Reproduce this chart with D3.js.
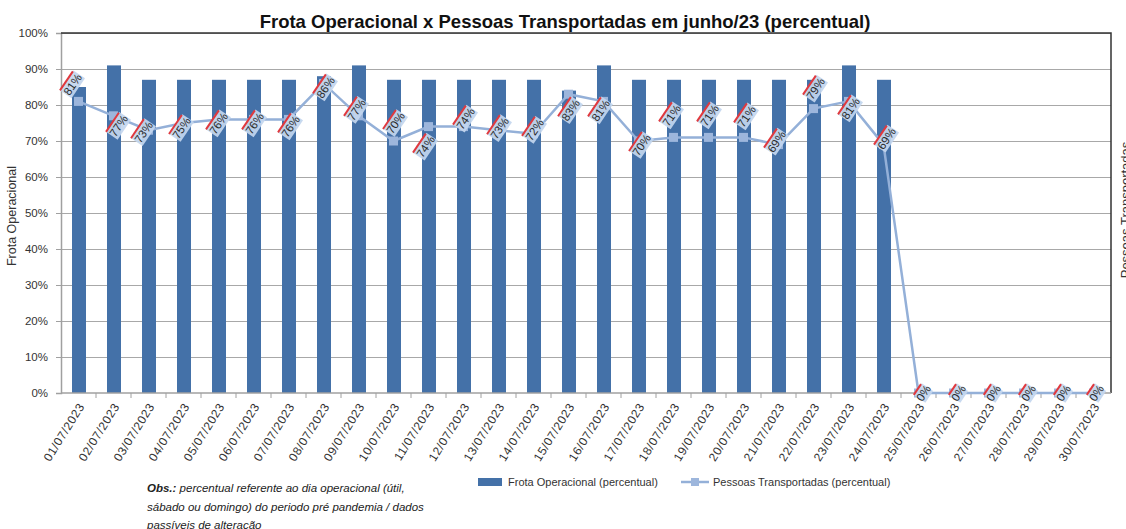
<!DOCTYPE html>
<html>
<head>
<meta charset="utf-8">
<script src="https://cdn.jsdelivr.net/npm/d3@7"></script>
<style>
  body { margin: 0; background: #fff; }
  svg { font-family: "Liberation Sans", Arial, sans-serif; }
</style>
</head>
<body>
<div id="chart"></div>
<script>
// dados (junho/23 - percentual)
const dias = ["01/07/2023","02/07/2023","03/07/2023","04/07/2023","05/07/2023","06/07/2023","07/07/2023","08/07/2023","09/07/2023","10/07/2023",
  "11/07/2023","12/07/2023","13/07/2023","14/07/2023","15/07/2023","16/07/2023","17/07/2023","18/07/2023","19/07/2023","20/07/2023",
  "21/07/2023","22/07/2023","23/07/2023","24/07/2023","25/07/2023","26/07/2023","27/07/2023","28/07/2023","29/07/2023","30/07/2023"]
const frota = [0.85,0.91,0.87,0.87,0.87,0.87,0.87,0.88,0.91,0.87,
  0.87,0.87,0.87,0.87,0.84,0.91,0.87,0.87,0.87,0.87,
  0.87,0.87,0.91,0.87,0,0,0,0,0,0]
const pessoas = [0.81,0.77,0.73,0.75,0.76,0.76,0.76,0.86,0.77,0.70,
  0.74,0.74,0.73,0.72,0.83,0.81,0.70,0.71,0.71,0.71,
  0.69,0.79,0.81,0.69,0,0,0,0,0,0]
const yTicks = [0,0.1,0.2,0.3,0.4,0.5,0.6,0.7,0.8,0.9,1]

const titulo = "Frota Operacional x Pessoas Transportadas em junho/23 (percentual)"
const obs = ["percentual referente ao dia operacional (útil,",
  "sábado ou domingo) do periodo pré pandemia / dados",
  "passíveis de alteração"]

const width = 1126
const height = 529
const margin = {top:33, bottom:136, left:61, right:15}

// deslocamento dos rótulos da linha (layout, em px)
const labelShift = [[-6,-17],[5,10],[-5,2],[-2,5],[0,4],[1,4],[2,7],[2,4],[-2,-6],[2,-18],
  [-3,20],[2,-8],[1,-2],[1,-4],[2,16],[-3,9],[3,4],[-2,-22],[1,-22],[3,-21],
  [-2,-3],[2,-20],[2,7],[3,-6],[5,0],[5,0],[5,0],[5,0],[5,0],[3,0]]

const svg = d3.select("div#chart").append("svg").attr("width",width).attr("height",height)

const x = d3.scaleBand().domain(dias).range([margin.left, width - margin.right])
const y = d3.scaleLinear().domain([0,1]).range([height - margin.bottom, margin.top])

const plotW = width - margin.right - margin.left

// grid
svg.append("g").attr("class","grid")
  .attr("transform", `translate(${margin.left},0)`)
  .call(d3.axisLeft(y).tickValues(yTicks.slice(1)).tickSize(-plotW).tickFormat(""))
  .call(g => g.select(".domain").remove())
  .call(g => g.selectAll("line").attr("stroke","#a8a8a8").attr("stroke-width",1.2))

// eixo Y
const yAxisGroup = svg.append("g")
  .attr("transform", `translate(${margin.left},0)`)
  .call(d3.axisLeft(y).tickValues(yTicks).tickFormat(d3.format(".0%")).tickSize(5).tickPadding(8))
yAxisGroup.select(".domain").attr("stroke","#a0a0a0").attr("stroke-width",1.5)
yAxisGroup.selectAll("line").attr("stroke","#a0a0a0")
yAxisGroup.selectAll("text").attr("font-size",11.5).attr("fill","#333")

// borda superior/direita
svg.append("path")
  .attr("d", `M${margin.left},${margin.top}H${width - margin.right}V${height - margin.bottom}`)
  .attr("fill","none").attr("stroke","#333").attr("stroke-width",1.5)

// barras
const bw = x.bandwidth() * 0.4
svg.append("g").selectAll("rect").data(frota).join("rect")
  .attr("x", (d,i) => x(dias[i]) + (x.bandwidth() - bw) / 2 + 0.5)
  .attr("y", d => y(d))
  .attr("width", bw)
  .attr("height", d => y(0) - y(d))
  .attr("fill", "#4471a8")

// eixo X
const xAxisGroup = svg.append("g").attr("transform", `translate(0,${y(0)})`)
xAxisGroup.append("line").attr("x1", margin.left).attr("x2", width - margin.right)
  .attr("stroke","#a0a0a0").attr("stroke-width",1.5)
xAxisGroup.selectAll("line.tk").data(dias.slice(1)).join("line").attr("class","tk")
  .attr("x1", d => x(d)).attr("x2", d => x(d)).attr("y1",0).attr("y2",5)
  .attr("stroke","#a0a0a0")
xAxisGroup.selectAll("text").data(dias).join("text")
  .attr("transform", d => `translate(${x(d) + x.bandwidth()/2 + 3},${11}) rotate(-58)`)
  .attr("text-anchor","end").attr("dy","0.35em")
  .attr("font-size",12).attr("letter-spacing",0.6).attr("fill","#333")
  .text(d => d)

// linha pessoas
const line = d3.line().x((d,i) => x(dias[i]) + x.bandwidth()/2).y(d => y(d))
svg.append("path").datum(pessoas)
  .attr("d", line).attr("fill","none").attr("stroke","#94b0d8").attr("stroke-width",2.5)
svg.append("g").selectAll("rect").data(pessoas).join("rect")
  .attr("x", (d,i) => x(dias[i]) + x.bandwidth()/2 - 4.5)
  .attr("y", d => y(d) - 4.5)
  .attr("width",9).attr("height",9)
  .attr("fill","#9db6dc")

// rótulos
const labels = svg.append("g").selectAll("g").data(pessoas).join("g")
  .attr("transform", (d,i) => `translate(${x(dias[i]) + x.bandwidth()/2 + labelShift[i][0]},${y(d) + labelShift[i][1]}) rotate(-56)`)
labels.append("rect")
  .attr("x", d => d > 0 ? -12 : -7).attr("y",-7)
  .attr("width", d => d > 0 ? 24 : 14).attr("height",14)
  .attr("fill","#c3d6ee").attr("opacity",0.92)
labels.append("line")
  .attr("x1", d => d > 0 ? -12 : -7).attr("x2", d => d > 0 ? 11 : 6)
  .attr("y1",-7).attr("y2",-7)
  .attr("stroke","#e0393e").attr("stroke-width",2)
labels.append("text")
  .attr("text-anchor","middle").attr("dy","0.36em")
  .attr("font-size",11.5).attr("fill","#2a2a2a")
  .text(d => d3.format(".0%")(d))

// titulo
svg.append("text").attr("x",565).attr("y",28).attr("text-anchor","middle")
  .attr("font-size",18.5).attr("font-weight","bold").attr("fill","#111")
  .text(titulo)

// titulos dos eixos
svg.append("text").attr("transform","translate(16,216) rotate(-90)")
  .attr("text-anchor","middle").attr("font-size",12.5).attr("fill","#333")
  .text("Frota Operacional")
svg.append("text").attr("transform","translate(1130,210) rotate(-90)")
  .attr("text-anchor","middle").attr("font-size",13).attr("fill","#333")
  .text("Pessoas Transportadas")

// legenda
const legend = svg.append("g").attr("transform","translate(478,482)")
legend.append("rect").attr("x",0).attr("y",-4).attr("width",24).attr("height",8).attr("fill","#4471a8")
legend.append("text").attr("x",30).attr("dy","0.35em").attr("font-size",11).attr("fill","#333")
  .text("Frota Operacional (percentual)")
legend.append("line").attr("x1",203).attr("x2",231).attr("stroke","#94b0d8").attr("stroke-width",2.5)
legend.append("rect").attr("x",213).attr("y",-4).attr("width",8).attr("height",8).attr("fill","#9db6dc")
legend.append("text").attr("x",235).attr("dy","0.35em").attr("font-size",11).attr("fill","#333")
  .text("Pessoas Transportadas (percentual)")

// observacao
const obsText = svg.append("text").attr("font-size",11.5).attr("font-style","italic").attr("fill","#222")
obs.forEach((t,i) => {
  const tl = obsText.append("tspan").attr("x",147).attr("y",492 + i*18.5)
  if (i === 0) {
    tl.append("tspan").attr("font-weight","bold").text("Obs.:")
    tl.append("tspan").text(" " + t)
  } else tl.text(t)
})
</script>
</body>
</html>
